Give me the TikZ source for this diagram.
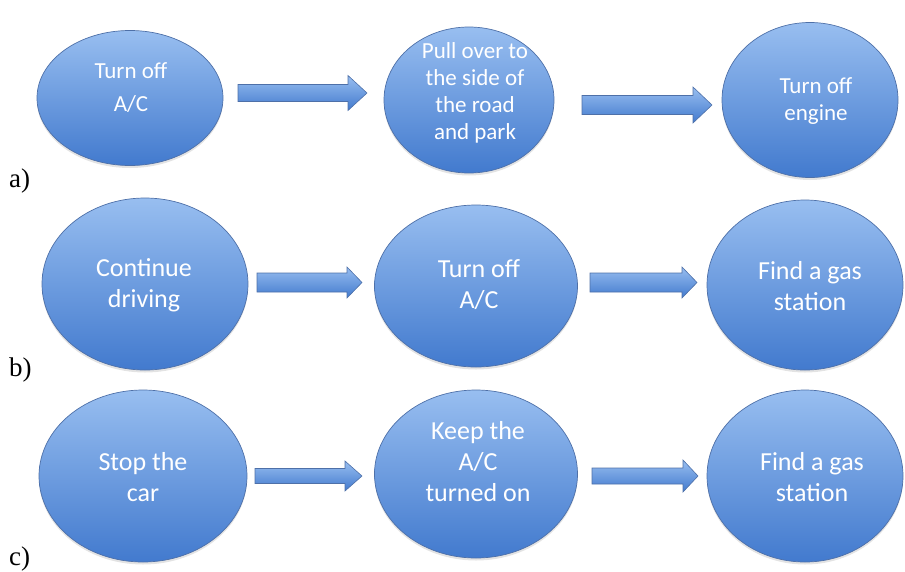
\documentclass[tikz,border=0pt]{standalone}
\usepackage{fontspec}
\setmainfont{Carlito}
\newfontfamily\labelfont{Liberation Serif}
\usetikzlibrary{shapes.geometric,shadows}
\definecolor{topblue}{RGB}{152,190,240}
\definecolor{botblue}{RGB}{66,122,206}
\definecolor{edgeblue}{RGB}{78,112,168}
\tikzset{
  oval/.style={ellipse, draw=edgeblue, line width=0.7pt, top color=topblue, bottom color=botblue,
    inner sep=0pt, drop shadow={opacity=0.22, shadow xshift=0pt, shadow yshift=-2.5pt}},
  ovaltxta/.style={text=white, align=center, inner sep=0pt, font=\fontsize{23}{27}\selectfont},
  ovaltxtb/.style={text=white, align=center, inner sep=0pt, font=\fontsize{26}{31}\selectfont},
  barrow/.style={draw=edgeblue, line width=0.6pt, top color=topblue, bottom color=botblue, line join=miter},
  rowlabel/.style={anchor=base west, inner sep=0pt, font=\labelfont\fontsize{27}{30}\selectfont}
}
\newcommand{\blockarrow}[6]{% x0, xb, xt, yc, shaft half, head half
  \draw[barrow] (#1,#4-#5) -- (#2,#4-#5) -- (#2,#4-#6) -- (#3,#4) -- (#2,#4+#6) -- (#2,#4+#5) -- (#1,#4+#5) -- cycle;}
\begin{document}
\begin{tikzpicture}[x=1pt,y=-1pt]
\useasboundingbox (0,0) rectangle (905,571);
% ---- row a
\node[oval, minimum width=186pt, minimum height=135pt] (a1) at (130,98) {};
\node[oval, minimum width=170pt, minimum height=146pt] (a2) at (469,100) {};
\node[oval, minimum width=176pt, minimum height=155pt] (a3) at (810,100) {};
\node[ovaltxta, font=\fontsize{23}{33}\selectfont] (a1t) at (131,88) {Turn off\\A/C};
\node[ovaltxta] (a2t) at (475,93) {Pull over to\\the side of\\the road\\and park};
\node[ovaltxta] (a3t) at (816,101) {Turn off\\engine};
\blockarrow{238}{348}{367}{93}{8.5}{17.5}
\blockarrow{582}{693}{712}{105}{9.5}{18}
\node[rowlabel] (la) at (9,187) {a)};
% ---- row b
\node[oval, minimum width=206pt, minimum height=172pt] (b1) at (145,284) {};
\node[oval, minimum width=203pt, minimum height=162pt] (b2) at (476,286) {};
\node[oval, minimum width=196pt, minimum height=170pt] (b3) at (805,285) {};
\node[ovaltxtb] (b1t) at (144,285) {Continue\\driving};
\node[ovaltxtb] (b2t) at (479,285) {Turn off\\A/C};
\node[ovaltxtb] (b3t) at (810,286) {Find a gas\\station};
\blockarrow{257}{347}{362}{282.5}{9.5}{15.5}
\blockarrow{590}{682}{697}{282.5}{9.5}{15.5}
\node[rowlabel] (lb) at (9,376) {b)};
% ---- row c
\node[oval, minimum width=208pt, minimum height=172pt] (c1) at (143,476) {};
\node[oval, minimum width=203pt, minimum height=168pt] (c2) at (476,474) {};
\node[oval, minimum width=196pt, minimum height=172pt] (c3) at (805,476) {};
\node[ovaltxtb] (c1t) at (143,477) {Stop the\\car};
\node[ovaltxtb] (c2t) at (478,462) {Keep the\\A/C\\turned on};
\node[ovaltxtb] (c3t) at (812,477) {Find a gas\\station};
\blockarrow{255}{345}{362}{476}{7.5}{15}
\blockarrow{592}{683}{698}{476}{8}{16}
\node[rowlabel] (lc) at (9,565) {c)};
\end{tikzpicture}
\end{document}
